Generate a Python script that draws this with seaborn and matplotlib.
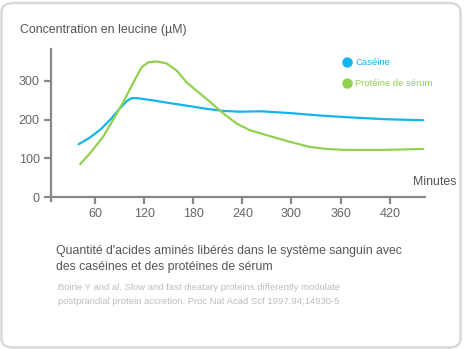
import matplotlib
matplotlib.use("Agg")
import matplotlib.pyplot as plt
from matplotlib.patches import FancyBboxPatch
from matplotlib.lines import Line2D
import seaborn as sns
import pandas as pd

# ---- data ----
casein_min = [40, 54, 68, 80, 90, 99, 105, 111, 131, 151, 172, 196, 217, 237, 263, 298, 335, 375, 416, 461]
casein_val = [136.5, 154, 177, 203, 228, 248, 255.5, 255.5, 249.7, 242.8, 236, 228, 222.5, 220.5, 221.6, 217, 210.6, 205.5, 201, 198.6]
whey_min = [42, 54, 70, 82, 94.5, 107, 117, 125, 135, 147.5, 160, 172, 186, 196, 217, 233, 249, 273.5, 298, 322, 343, 367, 408, 461]
whey_val = [85.4, 113.5, 156, 198.6, 245, 296, 335, 347.6, 350, 345, 326, 296, 271, 254, 215.7, 190, 173, 157.7, 143, 130, 124.5, 122, 122, 124.5]
series_names = ["Caséine", "Protéine de sérum"]
xticks = [60, 120, 180, 240, 300, 360, 420]
yticks = [0, 100, 200, 300]

df = pd.concat([
    pd.DataFrame({"Minutes": casein_min, "Leucine": casein_val, "Série": series_names[0]}),
    pd.DataFrame({"Minutes": whey_min, "Leucine": whey_val, "Série": series_names[1]}),
], ignore_index=True)

BLUE = "#14b4f0"
GREEN = "#92d050"
AXIS = "#888888"
TEXT = "#555555"

sns.set_theme(style="white")
plt.rcParams["font.family"] = ["Liberation Sans", "DejaVu Sans"]

fig = plt.figure(figsize=(4.73, 3.49), dpi=100)
fig.patch.set_facecolor("white")

# card border
card = FancyBboxPatch((1.5 / 473, 1.5 / 349), (460.5 - 1.5) / 473, (346 - 1.5) / 349,
                      boxstyle="round,pad=0,rounding_size=0.025",
                      transform=fig.transFigure, facecolor="white",
                      edgecolor="#d9d9d9", linewidth=1.8, zorder=-5)
fig.patches.append(card)

ax = fig.add_axes([50.7 / 473, 1 - 201 / 349, (425 - 50.7) / 473, (201 - 49) / 349])
ax.set_facecolor("none")
ax.set_zorder(2)

sns.lineplot(data=df, x="Minutes", y="Leucine", hue="Série",
             palette={series_names[0]: BLUE, series_names[1]: GREEN},
             linewidth=1.6, legend=False, ax=ax, sort=True)
for ln in ax.get_lines():
    ln.set_solid_joinstyle("round")
    ln.set_solid_capstyle("round")

ax.set_xlim(6, 463)
ax.set_ylim(-9.5, 382)
ax.spines["top"].set_visible(False)
ax.spines["right"].set_visible(False)
ax.spines["bottom"].set_position(("data", 0))
for s in ("left", "bottom"):
    ax.spines[s].set_color(AXIS)
    ax.spines[s].set_linewidth(1.6)
ax.set_xticks(xticks)
ax.set_yticks(yticks)
ax.tick_params(axis="both", which="both", direction="out", length=5, width=1.6,
               color=AXIS, labelcolor="#666666", labelsize=9, pad=3,
               left=True, bottom=True)
ax.set_xlabel("")
ax.set_ylabel("")

# title, axis name
fig.text(20 / 473, 1 - 30 / 349, "Concentration en leucine (µM)", fontsize=8.9,
         color=TEXT, va="center", ha="left")
fig.text(456 / 473, 1 - 182 / 349, "Minutes", fontsize=8.9,
         color=TEXT, va="center", ha="right")

# legend
handles = [Line2D([], [], linestyle="none", marker="o", markersize=6.5,
                  markerfacecolor=c, markeredgecolor=c) for c in (BLUE, GREEN)]
leg = fig.legend(handles, series_names, loc="upper left",
                 bbox_to_anchor=(341 / 473, 1 - 58 / 349),
                 bbox_transform=fig.transFigure, frameon=False,
                 fontsize=6.8, handletextpad=0.3, labelspacing=1.3,
                 handlelength=1.2, borderaxespad=0, borderpad=0)
for t, c in zip(leg.get_texts(), (BLUE, GREEN)):
    t.set_color(c)

# caption
fig.text(56 / 473, 1 - 251 / 349,
         "Quantité d'acides aminés libérés dans le système sanguin avec",
         fontsize=8.8, color=TEXT, va="center", ha="left")
fig.text(56 / 473, 1 - 267 / 349,
         "des caséines et des protéines de sérum",
         fontsize=8.8, color=TEXT, va="center", ha="left")
fig.text(58 / 473, 1 - 288 / 349,
         "Boirie Y and al. Slow and fast dieatary proteins differently modulate",
         fontsize=6.8, color="#bdbdbd", va="center", ha="left")
fig.text(58 / 473, 1 - 301 / 349,
         "postprandial protein accretion. Proc Nat Acad Scf 1997.94;14930-5",
         fontsize=6.8, color="#bdbdbd", va="center", ha="left")

fig.savefig("out.png", dpi=100, facecolor="white")
